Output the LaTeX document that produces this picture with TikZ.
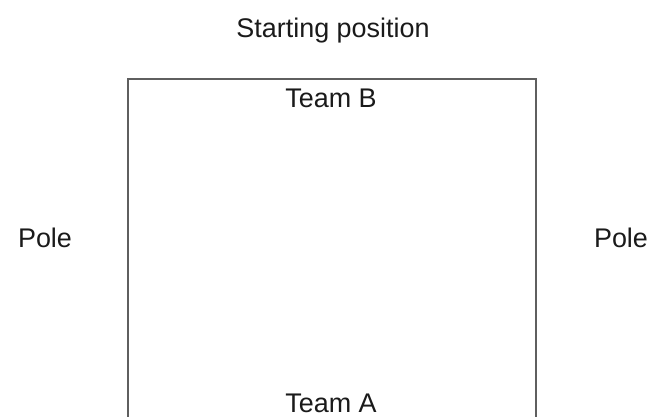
\documentclass[tikz,border=0pt]{standalone}
\usepackage{fontspec}
\setmainfont{Liberation Sans}
\usepackage{tikz}
\usetikzlibrary{positioning}
\definecolor{Ink}{HTML}{1A1A1A}
\definecolor{Edge}{HTML}{5F5F5F}

\begin{document}
\begin{tikzpicture}[
  x=0.03cm, y=-0.03cm,
  font=\fontsize{23}{27}\selectfont,
  label/.style={text=Ink, inner sep=0pt, anchor=center},
  field/.style={draw=Edge, line width=1.3pt}
]
\useasboundingbox (0,0) rectangle (667,417);

\node[label] (title) at (333,31) {Starting position};
\node[label] (teamb) at (331,98) {Team B};
\node[label] (teama) at (331,403) {Team A};
\node[label] (poleleft) at (45,238) {Pole};
\node[label] (poleright) at (621,238) {Pole};

% field, open at the bottom edge
\draw[field] (128,420) -- (128,79) -- (536,79) -- (536,420);
\end{tikzpicture}
\end{document}
